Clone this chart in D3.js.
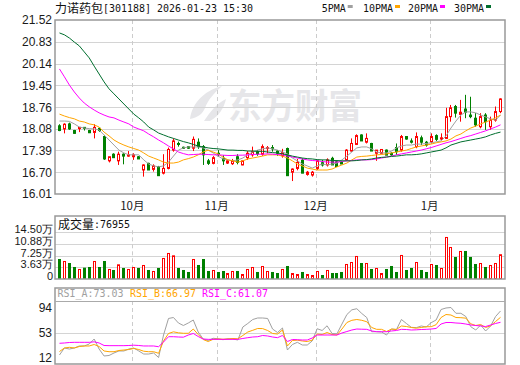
<!DOCTYPE html>
<html><head><meta charset="utf-8">
<script src="https://cdn.jsdelivr.net/npm/d3@7"></script>
<style>html,body{margin:0;padding:0;background:#fff;}svg{display:block;}</style>
</head><body>
<svg id="c" width="520" height="365"></svg>
<script>
// ---------------- data ----------------
const stockName = "力诺药包";
const stockInfo = "[301188] 2026-01-23 15:30";
const monthLabels = ["10月", "11月", "12月", "1月"];
const monthStart = [15, 32, 52, 75];
const priceTicks = [16.01, 16.70, 17.39, 18.08, 18.76, 19.45, 20.14, 20.83, 21.52];
const volTicks = [0, 36300, 72500, 108800, 145000];
const rsiTicks = [12, 53, 94];
const maNames = ["5PMA", "10PMA", "20PMA", "30PMA"];
const rsiNames = ["RSI_A:73.03", "RSI_B:66.97", "RSI_C:61.07"];
const lastVolume = 76955;

const open = [18.17,18.07,18.23,18.02,18.08,18.12,18.02,17.96,18.09,17.83, 17.06,17.27,17.06,17.27,17.21,17.19,17.19,16.77,16.98,16.79, 16.88,16.67,16.82,17.40,17.61,17.49,17.51,17.46,17.65,17.51, 17.06,16.98,17.30,17.14,16.99,16.97,17.19,16.93,17.16,17.25, 17.35,17.27,17.46,17.48,17.37,17.22,17.45,16.70,16.82,17.08, 16.63,16.61,16.82,17.00,16.93,17.14,17.03,17.01,17.09,17.37, 17.58,17.88,17.65,17.61,17.30,17.30,17.40,17.30,17.48,17.40, 17.83,17.69,17.51,17.79,17.65,17.67,17.86,17.75,17.77,18.46, 18.78,18.53,18.70,18.51,18.41,18.14,18.51,18.14,18.35,18.62];
const high = [18.22,18.25,18.27,18.04,18.13,18.13,18.04,18.22,18.12,17.88, 17.19,17.30,17.35,17.30,17.37,17.30,17.21,16.95,17.00,16.95, 16.90,17.27,17.48,17.77,17.67,17.51,17.53,17.83,17.77,17.56, 17.12,17.21,17.40,17.24,17.09,17.12,17.27,17.06,17.37,17.51, 17.40,17.58,17.53,17.56,17.40,17.44,17.48,16.82,17.12,17.14, 16.74,16.74,17.09,17.09,17.14,17.19,17.06,17.04,17.43,17.77, 17.90,17.90,17.93,17.63,17.40,17.42,17.42,17.33,17.61,17.88, 17.84,17.77,17.96,17.86,17.69,17.93,17.90,17.93,18.74,18.83, 18.83,18.99,19.15,19.09,18.57,18.57,18.57,18.46,18.78,19.04];
const low = [18.00,17.93,18.04,17.92,17.97,18.02,17.94,17.77,17.98,17.09, 17.01,17.16,16.93,16.95,17.19,17.09,17.12,16.56,16.77,16.72, 16.59,16.63,16.79,17.35,17.51,17.44,17.44,17.37,17.44,16.93, 16.93,16.95,17.19,16.93,16.96,16.93,16.95,16.92,17.09,17.19, 17.22,17.22,17.30,17.35,17.22,17.16,16.59,16.42,16.76,16.67, 16.59,16.56,16.77,16.88,16.88,16.93,16.88,16.96,17.06,17.35, 17.56,17.69,17.61,17.37,17.06,17.27,17.24,17.22,17.25,17.35, 17.73,17.61,17.46,17.56,17.51,17.61,17.69,17.72,17.75,18.30, 18.43,18.30,18.41,18.41,18.14,18.09,18.04,18.04,18.30,18.57];
const close = [18.02,18.22,18.07,17.93,18.12,18.10,17.95,18.12,18.02,17.12, 17.19,17.16,17.27,17.21,17.25,17.25,17.12,16.93,16.77,16.90, 16.59,16.82,17.42,17.69,17.58,17.46,17.46,17.74,17.51,17.25, 16.98,17.16,17.28,17.06,17.06,17.06,17.01,17.06,17.30,17.35, 17.28,17.51,17.48,17.44,17.30,17.32,16.59,16.80,17.01,16.67, 16.70,16.70,17.06,16.93,17.09,16.93,16.88,16.96,17.40,17.61, 17.86,17.69,17.77,17.37,17.40,17.42,17.24,17.25,17.35,17.83, 17.75,17.65,17.83,17.65,17.56,17.83,17.74,17.79,18.46,18.74, 18.57,18.60,18.60,18.46,18.20,18.46,18.30,18.35,18.62,19.02];
const volume = [62100,55900,49700,37300,31100,35200,37300,55900,37300,55900, 31100,28000,45600,34200,31100,37300,34200,43500,28000,24900, 34200,65300,80800,73500,34200,28000,21800,62100,43500,62100, 24900,28000,21800,24900,18600,24900,24900,15500,31100,37300, 21800,40400,24900,21800,18600,31100,40400,18600,15500,21800, 15500,12400,24900,12400,28000,18600,18600,21800,46600,52800, 71500,49700,49700,31100,34200,18600,31100,40400,21800,74600, 28000,34200,52800,28000,21800,46600,43500,34200,130500,99400, 68400,87000,87000,68400,46600,49700,37300,43500,49700,76955];
const ma5 = [18.32,18.32,18.31,18.23,18.13,18.10,18.08,18.07,18.04,17.88, 17.72,17.56,17.40,17.31,17.25,17.25,17.25,17.09,16.96,16.90, 16.87,16.90,17.02,17.21,17.40,17.47,17.50,17.50,17.50,17.47, 17.40,17.31,17.21,17.12,17.09,17.06,17.09,17.15,17.25,17.34, 17.40,17.44,17.47,17.44,17.40,17.34,17.28,17.15,17.06,16.96, 16.90,16.83,16.90,16.96,16.93,16.96,16.99,17.09,17.21,17.34, 17.47,17.50,17.50,17.44,17.34,17.31,17.31,17.37,17.47,17.53, 17.56,17.56,17.59,17.59,17.61,17.63,17.66,17.69,17.85,18.10, 18.32,18.51,18.61,18.61,18.58,18.51,18.45,18.39,18.35,18.51];
const ma10 = [18.54,18.48,18.43,18.39,18.32,18.29,18.23,18.20,18.13,17.97, 17.85,17.72,17.63,17.56,17.50,17.45,17.40,17.31,17.21,17.15, 17.09,17.02,16.99,16.99,17.02,17.09,17.13,17.18,17.25,17.34, 17.40,17.34,17.28,17.18,17.09,17.06,17.02,17.06,17.12,17.15, 17.18,17.21,17.25,17.25,17.25,17.21,17.15,17.06,16.96,16.90, 16.83,16.80,16.77,16.77,16.77,16.80,16.87,16.93,16.99,17.09, 17.18,17.20,17.21,17.23,17.25,17.26,17.28,17.31,17.34,17.37, 17.40,17.45,17.50,17.53,17.56,17.59,17.63,17.66,17.69,17.75, 17.85,17.91,18.01,18.10,18.16,18.23,18.29,18.35,18.42,18.51];
const ma20 = [19.97,19.72,19.46,19.24,19.05,18.89,18.77,18.67,18.58,18.51, 18.45,18.42,18.35,18.29,18.23,18.13,18.07,18.01,17.91,17.82, 17.72,17.63,17.53,17.44,17.34,17.29,17.25,17.26,17.27,17.27, 17.26,17.25,17.25,17.24,17.23,17.23,17.24,17.24,17.25,17.26, 17.27,17.27,17.28,17.27,17.26,17.25,17.21,17.18,17.15,17.12, 17.09,17.07,17.06,17.04,17.02,17.02,17.02,17.04,17.06,17.07, 17.09,17.09,17.09,17.10,17.12,17.15,17.18,17.21,17.25,17.28, 17.31,17.34,17.37,17.40,17.44,17.48,17.53,17.58,17.63,17.67, 17.72,17.77,17.82,17.86,17.91,17.96,18.01,18.07,18.13,18.20];
const ma30 = [21.11,21.05,20.95,20.82,20.70,20.51,20.32,20.06,19.81,19.56, 19.34,19.18,19.02,18.86,18.70,18.54,18.42,18.29,18.13,18.04, 17.94,17.88,17.82,17.77,17.72,17.67,17.63,17.58,17.53,17.50, 17.47,17.45,17.44,17.42,17.40,17.40,17.39,17.39,17.37,17.37, 17.36,17.36,17.34,17.32,17.31,17.28,17.25,17.21,17.18,17.15, 17.13,17.12,17.10,17.09,17.09,17.07,17.07,17.06,17.06,17.06, 17.07,17.09,17.10,17.12,17.15,17.17,17.18,17.20,17.21,17.23, 17.25,17.25,17.26,17.28,17.31,17.34,17.37,17.40,17.47,17.56, 17.61,17.66,17.69,17.72,17.75,17.78,17.82,17.88,17.93,17.97];
const rsiA = [16.1,27.6,25.9,27.6,30.9,30.9,34.1,42.3,25.9,14.5, 15.3,19.4,22.7,22.7,25.9,27.6,22.7,17.7,17.7,19.4, 12.0,48.9,76.0,77.6,68.6,64.5,68.6,73.5,53.8,42.3, 39.9,43.5,42.7,41.2,42.8,42.3,40.7,62.0,67.8,74.3, 76.8,76.8,76.0,58.7,53.0,60.4,24.3,33.3,36.9,32.5, 32.5,39.1,59.2,56.3,64.0,51.4,50.9,66.9,82.5,90.2, 92.0,84.2,77.6,54.3,54.3,53.8,48.9,58.7,57.9,74.3, 67.8,61.5,60.9,63.7,62.0,69.1,73.5,90.7,93.2,94.0, 84.5,84.5,79.2,62.5,57.1,65.3,55.5,63.7,79.2,88.3];
const rsiB = [21.8,27.6,28.7,27.6,30.0,30.9,30.9,33.3,30.0,22.7, 21.5,21.5,23.5,24.3,25.1,26.8,25.1,22.3,21.5,21.5, 18.9,39.1,51.4,54.1,52.5,51.7,51.7,58.7,49.7,41.5, 38.2,41.8,42.3,42.0,42.3,43.2,42.7,48.1,53.8,56.6, 59.6,59.4,56.3,51.4,50.5,57.1,30.9,39.9,40.4,39.1, 38.2,40.4,50.5,49.7,53.0,49.7,48.9,58.7,69.4,73.0, 74.3,73.0,70.7,61.2,58.2,58.2,54.6,58.7,57.9,63.7, 62.8,61.2,60.1,61.2,62.5,62.5,65.8,77.6,82.5,81.7, 77.6,77.3,76.5,67.3,64.5,66.1,61.2,64.0,71.0,77.9];
const rsiC = [35.3,35.8,36.6,36.9,36.9,36.9,36.9,37.7,35.8,31.7, 31.4,31.4,31.4,31.4,31.7,32.2,31.7,30.9,30.9,30.9, 29.7,37.4,46.1,46.1,45.6,45.3,48.9,51.4,46.4,42.3, 41.8,41.8,41.8,41.8,41.8,41.8,41.8,43.2,44.5,45.6, 46.1,48.1,47.3,45.6,44.5,48.1,38.2,41.5,41.2,40.7, 40.7,44.0,48.9,48.9,48.9,48.9,48.9,52.2,54.6,57.1, 58.7,58.4,58.2,55.5,54.3,54.3,54.3,55.5,56.3,58.2, 57.9,57.1,57.4,57.9,58.2,58.7,59.6,66.9,69.4,69.4, 68.6,68.1,66.9,65.3,64.5,63.7,62.8,65.3,67.8,69.7];

// ---------------- styles ----------------
const RED = "#ff0000", GREEN = "#008000";
const maColors = ["#a0a0a0", "#ffa500", "#ff00ff", "#006e2e"];
const rsiColors = ["#a0a0a0", "#ffa500", "#ff00ff"];
const L = 55, R = 505;
const main = {top: 20, bottom: 194};
const vol = {top: 216, plotTop: 232.3, bottom: 279};
const rsi = {top: 288, sep: 301, bottom: 364};
const MONO = "'DejaVu Sans Mono', monospace";
const SANS = "'Liberation Sans', Arial, sans-serif";
const CJK = "'Noto Sans CJK SC', sans-serif";

const svg = d3.select("#c");
const n = close.length;
const x = d3.scaleBand().domain(d3.range(n)).range([57, 503]).padding(0);
const bw = x.bandwidth();
const cx = i => x(i) + bw / 2;
const yP = d3.scaleLinear().domain([priceTicks[0], priceTicks[priceTicks.length - 1]]).range([main.bottom, main.top]);
const yV = d3.scaleLinear().domain([0, volTicks[volTicks.length - 1]]).range([vol.bottom, vol.plotTop]);
const yR = d3.scaleLinear().domain([rsiTicks[0], rsiTicks[2]]).range([357.5, 307.5]);

svg.append("rect").attr("width", 520).attr("height", 365).attr("fill", "#fff");

const defs = svg.append("defs");
defs.append("clipPath").attr("id", "cm").append("rect").attr("x", L).attr("y", main.top).attr("width", R - L).attr("height", main.bottom - main.top);
defs.append("clipPath").attr("id", "cr").append("rect").attr("x", L).attr("y", rsi.sep).attr("width", R - L).attr("height", rsi.bottom - rsi.sep);

// ---------------- watermark ----------------
const wm = svg.append("g").attr("fill", "#e6e6e9");
wm.append("path").attr("d", "M190,119 C192,104 203,91 222,86 C214,93 208,100 205,108 C203,113 199,117 190,119 Z");
wm.append("path").attr("d", "M204,121 C210,112 216,104 226,99 C224,108 219,116 210,121 Z");
wm.append("text").attr("x", 228).attr("y", 119).attr("font-family", CJK).attr("font-weight", 700)
  .attr("font-size", 35).attr("textLength", 134).attr("lengthAdjust", "spacingAndGlyphs").text("东方财富");

// ---------------- grid ----------------
const grid = svg.append("g").attr("stroke", "#d4d4d4").attr("stroke-width", 1);
priceTicks.slice(1, -1).forEach(t => {
  const yy = Math.round(yP(t)) + 0.5;
  grid.append("line").attr("x1", L).attr("x2", R).attr("y1", yy).attr("y2", yy);
});
volTicks.slice(1).forEach(t => {
  const yy = Math.round(yV(t)) + 0.5;
  grid.append("line").attr("x1", L).attr("x2", R).attr("y1", yy).attr("y2", yy);
});
{
  const yy = Math.round(yR(rsiTicks[1])) + 0.5;
  grid.append("line").attr("x1", L).attr("x2", R).attr("y1", yy).attr("y2", yy);
}
const dash = svg.append("g").attr("stroke", "#cccccc").attr("stroke-dasharray", "4,3");
monthStart.forEach(i => {
  const xx = Math.round(x(i) + 1) + 0.5;
  [[main.top, main.bottom], [vol.plotTop - 2, vol.bottom], [rsi.sep, rsi.bottom]].forEach(([a, b]) => {
    dash.append("line").attr("x1", xx).attr("x2", xx).attr("y1", a).attr("y2", b);
  });
});

// ---------------- candles ----------------
const cg = svg.append("g").attr("clip-path", "url(#cm)");
d3.range(n).forEach(i => {
  const up = close[i] >= open[i];
  const col = up ? RED : GREEN;
  const left = Math.round(cx(i) - 1.5);
  const wx = left + 1.5;
  cg.append("line").attr("x1", wx).attr("x2", wx).attr("y1", yP(high[i])).attr("y2", yP(low[i]))
    .attr("stroke", col).attr("stroke-width", 1);
  const yTop = yP(Math.max(open[i], close[i]));
  const yBot = yP(Math.min(open[i], close[i]));
  const h = Math.max(1, yBot - yTop);
  if (up) {
    cg.append("rect").attr("x", left + 0.5).attr("y", yTop).attr("width", 2).attr("height", Math.max(1, h))
      .attr("fill", "#fff").attr("stroke", col).attr("stroke-width", 1);
  } else {
    cg.append("rect").attr("x", left).attr("y", yTop - 0.5).attr("width", 3).attr("height", h + 1).attr("fill", col);
  }
});

const line = d3.line().x((d, i) => cx(i)).y(d => yP(d));
[ma5, ma10, ma20, ma30].forEach((arr, k) => {
  cg.append("path").datum(arr).attr("d", line).attr("fill", "none").attr("stroke", maColors[k]).attr("stroke-width", 1);
});

// ---------------- volume ----------------
const vg = svg.append("g");
d3.range(n).forEach(i => {
  const up = close[i] >= open[i];
  const left = Math.round(cx(i) - 1.5);
  const yTop = yV(volume[i]);
  if (up) {
    vg.append("rect").attr("x", left + 0.5).attr("y", yTop + 0.5).attr("width", 2).attr("height", vol.bottom - yTop - 1)
      .attr("fill", "#fff").attr("stroke", RED).attr("stroke-width", 1);
  } else {
    vg.append("rect").attr("x", left).attr("y", yTop).attr("width", 3).attr("height", vol.bottom - yTop).attr("fill", GREEN);
  }
});

// ---------------- RSI ----------------
const rg = svg.append("g").attr("clip-path", "url(#cr)");
const rline = d3.line().x((d, i) => cx(i)).y(d => yR(d));
[rsiA, rsiB, rsiC].forEach((arr, k) => {
  rg.append("path").datum(arr).attr("d", rline).attr("fill", "none").attr("stroke", rsiColors[k]).attr("stroke-width", 1);
});

// ---------------- frames ----------------
const fr = svg.append("g").attr("fill", "none").attr("stroke", "#999").attr("stroke-width", 1.5);
fr.append("rect").attr("x", L).attr("y", main.top).attr("width", R - L).attr("height", main.bottom - main.top);
fr.append("rect").attr("x", L).attr("y", vol.top).attr("width", R - L).attr("height", vol.bottom - vol.top);
fr.append("rect").attr("x", L).attr("y", rsi.top).attr("width", R - L).attr("height", rsi.bottom - rsi.top);
svg.append("line").attr("x1", L).attr("x2", R).attr("y1", rsi.sep + 0.5).attr("y2", rsi.sep + 0.5).attr("stroke", "#aaa");

// ---------------- axes ----------------
const axP = svg.append("g").attr("transform", `translate(${L},0)`)
  .call(d3.axisLeft(yP).tickValues(priceTicks).tickSize(0).tickPadding(3).tickFormat(d => d.toFixed(2)));
const axV = svg.append("g").attr("transform", `translate(${L},0)`)
  .call(d3.axisLeft(yV).tickValues(volTicks).tickSize(0).tickPadding(2)
    .tickFormat(d => d === 0 ? "0" : (d / 10000).toFixed(2) + "万"));
const axR = svg.append("g").attr("transform", `translate(${L},0)`)
  .call(d3.axisLeft(yR).tickValues(rsiTicks).tickSize(0).tickPadding(3).tickFormat(d3.format("d")));
[axP, axV, axR].forEach(a => {
  a.select(".domain").remove();
  a.selectAll("text").attr("font-family", SANS).attr("font-size", 12).attr("fill", "#1a1a1a");
});
axV.selectAll("text").attr("font-size", 11).attr("dy", "0.05em");
axR.selectAll("text").attr("dy", "0.35em");

monthStart.forEach((i, k) => {
  svg.append("text").attr("x", x(i) + 1).attr("y", 210).attr("text-anchor", "middle")
    .attr("font-family", CJK).attr("font-size", 11.5).attr("fill", "#1a1a1a").text(monthLabels[k]);
});

// ---------------- header ----------------
svg.append("text").attr("x", 55).attr("y", 12.5).attr("font-family", CJK).attr("font-size", 12).attr("fill", "#111")
  .attr("textLength", 48).attr("lengthAdjust", "spacingAndGlyphs").text(stockName);
svg.append("text").attr("x", 103).attr("y", 12).attr("font-family", MONO).attr("font-size", 10.5).attr("fill", "#111")
  .attr("textLength", 150).attr("lengthAdjust", "spacingAndGlyphs").text(stockInfo);
const legX = [321.7, 363, 408, 454];
maNames.forEach((nm, k) => {
  const w = nm.length * 6;
  svg.append("text").attr("x", legX[k]).attr("y", 12).attr("font-family", MONO).attr("font-size", 10.5).attr("fill", "#111")
    .attr("textLength", w).attr("lengthAdjust", "spacingAndGlyphs").text(nm);
  svg.append("rect").attr("x", legX[k] + w + 2).attr("y", 5).attr("width", 5).attr("height", 3).attr("fill", maColors[k]);
});

svg.append("text").attr("x", 58).attr("y", 228.5).attr("font-family", CJK).attr("font-size", 12).attr("fill", "#111")
  .attr("textLength", 36).attr("lengthAdjust", "spacingAndGlyphs").text("成交量");
svg.append("text").attr("x", 94).attr("y", 228).attr("font-family", MONO).attr("font-size", 10.5).attr("fill", "#111")
  .attr("textLength", 36).attr("lengthAdjust", "spacingAndGlyphs").text(":" + lastVolume);

const rsiX = [57.5, 130, 202];
rsiNames.forEach((nm, k) => {
  svg.append("text").attr("x", rsiX[k]).attr("y", 297).attr("font-family", MONO).attr("font-size", 10.5)
    .attr("fill", rsiColors[k]).attr("textLength", nm.length * 6).attr("lengthAdjust", "spacingAndGlyphs").text(nm);
});
</script>
</body></html>
